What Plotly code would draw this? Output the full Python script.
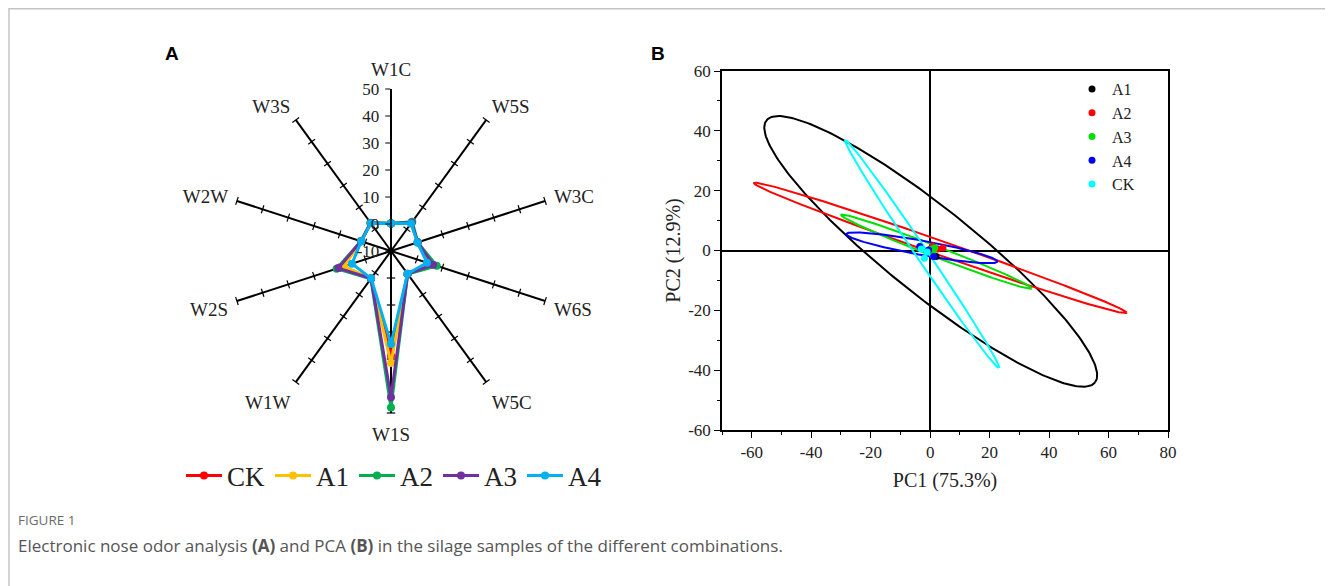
import numpy as np
import plotly.graph_objects as go

W, H = 1333, 586
OFF = 8  # page body margin of the html page

# ---- panel A : electronic nose radar ----
SENSORES = ["W1C", "W5S", "W3C", "W6S", "W5C", "W1S", "W1W", "W2S", "W2W", "W3S"]
GRUPOS = ["CK", "A1", "A2", "A3", "A4"]
CK = [0.2, 2.7, 0.4, 5.0, 0.4, 28.8, 2.6, 9.0, 1.6, 2.8]
A1 = [0.2, 2.8, 0.4, 5.5, 0.4, 31.5, 2.6, 8.3, 1.7, 2.8]
A2 = [0.3, 3.4, 0.4, 7.8, 0.5, 48.0, 2.7, 11.2, 1.7, 2.9]
A3 = [0.2, 3.0, 0.4, 6.4, 0.5, 44.2, 2.6, 10.5, 1.7, 2.8]
A4 = [0.2, 2.6, 0.3, 4.0, 0.4, 24.4, 2.5, 5.2, 1.6, 2.7]
RADAR_TICKS = [-10, 0, 10, 20, 30, 40, 50]
RADAR_TICKTEXT = ["-10", "0", "10", "20", "30", "40", "50"]
CORES_RADAR = ["#FF0000", "#FFC000", "#00B050", "#7030A0", "#00B0F0"]

# ---- panel B : PCA scores + confidence ellipses ----
PCA_GRUPOS = ["A1", "A2", "A3", "A4", "CK"]
PCA_X = [[0.5, 2.0, 1.0], [0.9, 4.3, 2.5], [0.3, 1.5, 1.0], [-3.5, 1.2, -0.5], [-1.9, -1.0, -3.0]]
PCA_Y = [[0.8, -2.0, 0.3], [1.5, 0.8, 0.5], [0.5, 0.8, -0.2], [1.3, -2.0, 0.2], [-2.6, -0.5, 0.5]]
ELIPSE_CX = [0.2, 3.45, 2.1, -2.8, -2.7]
ELIPSE_CY = [-0.3, 0.85, -0.4, 0.9, -1.2]
ELIPSE_A = [70.5, 66.3, 34.3, 25.8, 46.0]
ELIPSE_B = [14.5, 2.4, 1.8, 2.4, 2.0]
ELIPSE_ANG = [-38.4, -19.1, -21.0, -10.3, -55.8]
CORES_PCA = ["#000000", "#FF0000", "#00E000", "#0000FF", "#00FFFF"]
X_TICKS = [-60, -40, -20, 0, 20, 40, 60, 80]
Y_TICKS = [-60, -40, -20, 0, 20, 40, 60]

SERIF = "Liberation Serif"
CINZA_BORDA = "#C4C4C4"
COR_TEXTO = "#222222"


def px(x):
    return (x - OFF) / W


def py(y):
    return 1 - (y - OFF) / H


fig = go.Figure()

# tick marks on every spoke (W1C carries the real radial axis)
for k, s in enumerate(SENSORES):
    if s == "W1C":
        continue
    fig.add_trace(go.Scatterpolar(
        r=RADAR_TICKS[1:], theta=[s] * (len(RADAR_TICKS) - 1),
        mode="markers", showlegend=False, hoverinfo="skip",
        marker=dict(symbol="line-ew", size=6, angle=36 * k,
                    line=dict(color="black", width=1.2)),
    ))

for nome, vals, cor in zip(GRUPOS, [CK, A1, A2, A3, A4], CORES_RADAR):
    fig.add_trace(go.Scatterpolar(
        r=vals + vals[:1], theta=SENSORES + SENSORES[:1],
        mode="lines+markers", name=nome, legend="legend",
        line=dict(color=cor, width=3),
        marker=dict(color=cor, size=8),
    ))

# PCA ellipses
t = np.linspace(0, 2 * np.pi, 300)
for i, g in enumerate(PCA_GRUPOS):
    th = np.deg2rad(ELIPSE_ANG[i])
    ex = ELIPSE_CX[i] + ELIPSE_A[i] * np.cos(t) * np.cos(th) - ELIPSE_B[i] * np.sin(t) * np.sin(th)
    ey = ELIPSE_CY[i] + ELIPSE_A[i] * np.cos(t) * np.sin(th) + ELIPSE_B[i] * np.sin(t) * np.cos(th)
    fig.add_trace(go.Scatter(
        x=ex, y=ey, mode="lines", showlegend=False, hoverinfo="skip",
        line=dict(color=CORES_PCA[i], width=2), xaxis="x", yaxis="y",
    ))

for i, g in enumerate(PCA_GRUPOS):
    fig.add_trace(go.Scatter(
        x=PCA_X[i], y=PCA_Y[i], mode="markers", name=g, legend="legend2",
        marker=dict(color=CORES_PCA[i], size=7), xaxis="x", yaxis="y",
    ))

fig.update_layout(
    width=W, height=H,
    margin=dict(l=0, r=0, t=0, b=0),
    paper_bgcolor="white", plot_bgcolor="white",
    font=dict(family=SERIF, color="black"),
    polar=dict(
        domain=dict(x=[px(391 - 162), px(391 + 162)], y=[py(251 + 162), py(251 - 162)]),
        bgcolor="white",
        radialaxis=dict(
            range=[-10, 50], tickvals=RADAR_TICKS, ticktext=RADAR_TICKTEXT, showgrid=False,
            showline=True, linecolor="black", linewidth=1.5,
            ticks="outside", ticklen=5, tickcolor="black",
            side="counterclockwise", angle=90, tickangle=90,
            tickfont=dict(family=SERIF, size=17, color=COR_TEXTO),
        ),
        angularaxis=dict(
            direction="clockwise", rotation=90, showgrid=True,
            categoryorder="array", categoryarray=SENSORES,
            gridcolor="black", gridwidth=1.5, showline=False,
            ticks="outside", ticklen=5, tickcolor="rgba(0,0,0,0)",
            tickfont=dict(family=SERIF, size=19, color=COR_TEXTO),
        ),
    ),
    xaxis=dict(
        domain=[px(722), px(1168)], range=[-70, 80],
        tickvals=X_TICKS, ticktext=[str(v) for v in X_TICKS],
        showgrid=False, zeroline=True, zerolinecolor="black", zerolinewidth=1.5,
        showline=True, linecolor="black", linewidth=1.5, mirror=True,
        ticks="outside", ticklen=6, tickcolor="black",
        minor=dict(ticks="outside", ticklen=3, dtick=10, tick0=0, tickcolor="black"),
        tickfont=dict(family=SERIF, size=17, color=COR_TEXTO),
        title=dict(text="PC1 (75.3%)", font=dict(family=SERIF, size=20, color=COR_TEXTO), standoff=12),
        automargin=False,
    ),
    yaxis=dict(
        domain=[py(430), py(71)], range=[-60, 60],
        tickvals=Y_TICKS, ticktext=[str(v) for v in Y_TICKS],
        showgrid=False, zeroline=True, zerolinecolor="black", zerolinewidth=1.5,
        showline=True, linecolor="black", linewidth=1.5, mirror=True,
        ticks="outside", ticklen=6, tickcolor="black",
        minor=dict(ticks="outside", ticklen=3, dtick=10, tick0=0, tickcolor="black"),
        tickfont=dict(family=SERIF, size=17, color=COR_TEXTO),
        title=dict(text="PC2 (12.9%)", font=dict(family=SERIF, size=20, color=COR_TEXTO), standoff=2),
        automargin=False,
    ),
    legend=dict(
        orientation="h", x=px(394), xanchor="center", y=py(476), yanchor="middle",
        font=dict(family=SERIF, size=27, color=COR_TEXTO), itemwidth=36,
        bgcolor="rgba(0,0,0,0)", tracegroupgap=0,
    ),
    legend2=dict(
        x=px(1072), xanchor="left", y=py(72), yanchor="top",
        font=dict(family=SERIF, size=16, color=COR_TEXTO),
        bgcolor="rgba(0,0,0,0)", itemwidth=30,
    ),
    shapes=[
        dict(type="line", xref="paper", yref="paper", x0=px(9), x1=px(9), y0=1, y1=0,
             line=dict(color=CINZA_BORDA, width=1.5)),
        dict(type="line", xref="paper", yref="paper", x0=px(9), x1=1, y0=py(8.7), y1=py(8.7),
             line=dict(color=CINZA_BORDA, width=1.5)),
        dict(type="line", xref="paper", yref="paper", x0=px(1331), x1=px(1331), y0=py(8), y1=py(40),
             line=dict(color=CINZA_BORDA, width=1.5)),
    ],
    annotations=[
        dict(text="<b>A</b>", x=px(172), y=py(53), xref="paper", yref="paper", showarrow=False,
             xanchor="center", yanchor="middle",
             font=dict(family="Liberation Sans", size=19, color="black")),
        dict(text="<b>B</b>", x=px(658), y=py(53), xref="paper", yref="paper", showarrow=False,
             xanchor="center", yanchor="middle",
             font=dict(family="Liberation Sans", size=19, color="black")),
        dict(text="FIGURE 1", x=px(16), y=py(520), xref="paper", yref="paper", showarrow=False,
             xanchor="left", yanchor="middle",
             font=dict(family="Open Sans", size=13.5, color="#6B6B6B")),
        dict(text="Electronic nose odor analysis <b>(A)</b> and PCA <b>(B)</b> in the silage samples of the different combinations.",
             x=px(16), y=py(545), xref="paper", yref="paper", showarrow=False,
             xanchor="left", yanchor="middle",
             font=dict(family="Open Sans", size=17, color="#555555")),
    ],
)

fig.write_html("out.html")
